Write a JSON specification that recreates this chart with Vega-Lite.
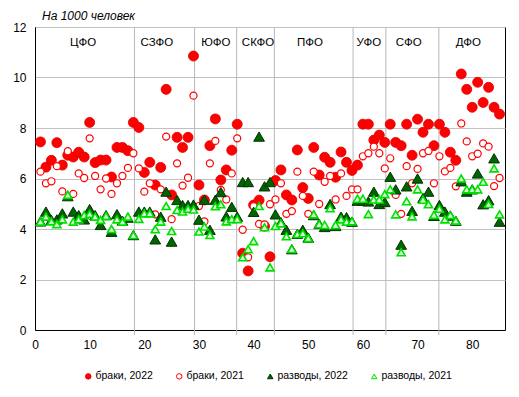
{
  "$schema": "https://vega.github.io/schema/vega-lite/v6.json",
  "width": 470,
  "height": 303,
  "autosize": {"type": "none"},
  "padding": {"left": 35, "top": 27, "right": 14, "bottom": 67},
  "background": "white",
  "title": {"text": "На 1000 человек", "anchor": "start", "frame": "group", "fontStyle": "italic", "fontWeight": "normal", "fontSize": 12, "font": "Liberation Sans", "color": "black", "offset": 7, "dx": 7, "dy": 18, "baseline": "alphabetic"},
  "config": {
    "font": "Liberation Sans",
    "view": {"stroke": "black", "strokeWidth": 1},
    "axis": {"labelFont": "Liberation Sans", "labelFontSize": 12, "labelColor": "black", "domainColor": "black", "ticks": false, "tickSize": 0, "title": null}
  },
  "datasets": {
    "pts": [
      {"s":"b22","i":1,"v":7.45},{"s":"b22","i":2,"v":6.45},{"s":"b22","i":3,"v":6.72},{"s":"b22","i":4,"v":7.42},{"s":"b22","i":5,"v":6.53},{"s":"b22","i":6,"v":6.92},{"s":"b22","i":7,"v":6.85},{"s":"b22","i":8,"v":7.04},{"s":"b22","i":9,"v":6.85},{"s":"b22","i":10,"v":8.22},
      {"s":"b22","i":11,"v":6.63},{"s":"b22","i":12,"v":6.73},{"s":"b22","i":13,"v":6.73},{"s":"b22","i":14,"v":6.06},{"s":"b22","i":15,"v":7.23},{"s":"b22","i":16,"v":7.23},{"s":"b22","i":17,"v":7.1},{"s":"b22","i":18,"v":8.22},{"s":"b22","i":19,"v":8.02},{"s":"b22","i":20,"v":6.24},
      {"s":"b22","i":21,"v":6.64},{"s":"b22","i":22,"v":5.74},{"s":"b22","i":23,"v":6.44},{"s":"b22","i":24,"v":9.53},{"s":"b22","i":25,"v":5.35},{"s":"b22","i":26,"v":7.63},{"s":"b22","i":27,"v":7.23},{"s":"b22","i":28,"v":7.63},{"s":"b22","i":29,"v":10.85},{"s":"b22","i":30,"v":5.74},
      {"s":"b22","i":31,"v":5.15},{"s":"b22","i":32,"v":7.3},{"s":"b22","i":33,"v":8.36},{"s":"b22","i":34,"v":5.94},{"s":"b22","i":35,"v":6.34},{"s":"b22","i":36,"v":7.12},{"s":"b22","i":37,"v":8.15},{"s":"b22","i":38,"v":3.04},{"s":"b22","i":39,"v":2.34},{"s":"b22","i":40,"v":4.95},
      {"s":"b22","i":41,"v":5.14},{"s":"b22","i":42,"v":4.11},{"s":"b22","i":43,"v":2.9},{"s":"b22","i":44,"v":5.92},{"s":"b22","i":45,"v":6.34},{"s":"b22","i":46,"v":5.35},{"s":"b22","i":47,"v":5.15},{"s":"b22","i":48,"v":7.13},{"s":"b22","i":49,"v":5.64},{"s":"b22","i":50,"v":5.21},
      {"s":"b22","i":51,"v":7.23},{"s":"b22","i":52,"v":6.14},{"s":"b22","i":53,"v":6.84},{"s":"b22","i":54,"v":6.64},{"s":"b22","i":55,"v":6.05},{"s":"b22","i":56,"v":7.05},{"s":"b22","i":57,"v":6.64},{"s":"b22","i":58,"v":6.32},{"s":"b22","i":59,"v":6.53},{"s":"b22","i":60,"v":8.15},
      {"s":"b22","i":61,"v":8.15},{"s":"b22","i":62,"v":7.52},{"s":"b22","i":63,"v":7.72},{"s":"b22","i":64,"v":7.43},{"s":"b22","i":65,"v":8.15},{"s":"b22","i":66,"v":7.43},{"s":"b22","i":67,"v":7.3},{"s":"b22","i":68,"v":8.15},{"s":"b22","i":69,"v":6.92},{"s":"b22","i":70,"v":8.35},
      {"s":"b22","i":71,"v":7.83},{"s":"b22","i":72,"v":8.15},{"s":"b22","i":73,"v":7.3},{"s":"b22","i":74,"v":8.15},{"s":"b22","i":75,"v":7.83},{"s":"b22","i":76,"v":7.04},{"s":"b22","i":77,"v":6.72},{"s":"b22","i":78,"v":10.14},{"s":"b22","i":79,"v":9.53},{"s":"b22","i":80,"v":8.82},
      {"s":"b22","i":81,"v":9.81},{"s":"b22","i":82,"v":9.01},{"s":"b22","i":83,"v":9.61},{"s":"b22","i":84,"v":8.82},{"s":"b22","i":85,"v":8.55},

      {"s":"b21","i":1,"v":6.27},{"s":"b21","i":2,"v":5.81},{"s":"b21","i":3,"v":5.89},{"s":"b21","i":4,"v":6.49},{"s":"b21","i":5,"v":5.49},{"s":"b21","i":6,"v":7.08},{"s":"b21","i":7,"v":5.39},{"s":"b21","i":8,"v":6.2},{"s":"b21","i":9,"v":6.02},{"s":"b21","i":10,"v":7.59},
      {"s":"b21","i":11,"v":6.1},{"s":"b21","i":12,"v":5.57},{"s":"b21","i":13,"v":6.0},{"s":"b21","i":14,"v":5.39},{"s":"b21","i":15,"v":5.81},{"s":"b21","i":16,"v":6.1},{"s":"b21","i":17,"v":6.42},{"s":"b21","i":18,"v":7.0},{"s":"b21","i":19,"v":6.4},{"s":"b21","i":20,"v":5.48},
      {"s":"b21","i":21,"v":5.81},{"s":"b21","i":22,"v":4.58},{"s":"b21","i":23,"v":5.57},{"s":"b21","i":24,"v":7.66},{"s":"b21","i":25,"v":4.39},{"s":"b21","i":26,"v":6.6},{"s":"b21","i":27,"v":5.72},{"s":"b21","i":28,"v":6.03},{"s":"b21","i":29,"v":9.28},{"s":"b21","i":30,"v":4.91},
      {"s":"b21","i":31,"v":4.3},{"s":"b21","i":32,"v":6.6},{"s":"b21","i":33,"v":7.49},{"s":"b21","i":34,"v":5.55},{"s":"b21","i":35,"v":5.17},{"s":"b21","i":36,"v":6.2},{"s":"b21","i":37,"v":7.59},{"s":"b21","i":38,"v":3.97},{"s":"b21","i":39,"v":2.88},{"s":"b21","i":40,"v":4.9},
      {"s":"b21","i":41,"v":4.2},{"s":"b21","i":42,"v":4.18},{"s":"b21","i":43,"v":4.98},{"s":"b21","i":44,"v":5.17},{"s":"b21","i":45,"v":5.81},{"s":"b21","i":46,"v":4.6},{"s":"b21","i":47,"v":4.71},{"s":"b21","i":48,"v":6.27},{"s":"b21","i":49,"v":5.31},{"s":"b21","i":50,"v":4.6},
      {"s":"b21","i":51,"v":6.27},{"s":"b21","i":52,"v":4.99},{"s":"b21","i":53,"v":5.87},{"s":"b21","i":54,"v":6.1},{"s":"b21","i":55,"v":5.17},{"s":"b21","i":56,"v":6.2},{"s":"b21","i":57,"v":5.31},{"s":"b21","i":58,"v":5.57},{"s":"b21","i":59,"v":5.57},{"s":"b21","i":60,"v":6.88},
      {"s":"b21","i":61,"v":7.0},{"s":"b21","i":62,"v":7.26},{"s":"b21","i":63,"v":7.0},{"s":"b21","i":64,"v":6.4},{"s":"b21","i":65,"v":6.8},{"s":"b21","i":66,"v":5.35},{"s":"b21","i":67,"v":4.6},{"s":"b21","i":68,"v":6.49},{"s":"b21","i":69,"v":5.81},{"s":"b21","i":70,"v":6.38},
      {"s":"b21","i":71,"v":7.0},{"s":"b21","i":72,"v":7.09},{"s":"b21","i":73,"v":5.81},{"s":"b21","i":74,"v":6.88},{"s":"b21","i":75,"v":6.28},{"s":"b21","i":76,"v":6.42},{"s":"b21","i":77,"v":5.69},{"s":"b21","i":78,"v":8.18},{"s":"b21","i":79,"v":7.47},{"s":"b21","i":80,"v":6.88},
      {"s":"b21","i":81,"v":6.98},{"s":"b21","i":82,"v":7.39},{"s":"b21","i":83,"v":7.26},{"s":"b21","i":84,"v":5.7},{"s":"b21","i":85,"v":6.02},

      {"s":"r22","i":1,"v":4.3},{"s":"r22","i":2,"v":4.69},{"s":"r22","i":3,"v":4.36},{"s":"r22","i":4,"v":4.38},{"s":"r22","i":5,"v":4.62},{"s":"r22","i":6,"v":5.3},{"s":"r22","i":7,"v":4.69},{"s":"r22","i":8,"v":4.55},{"s":"r22","i":9,"v":4.38},{"s":"r22","i":10,"v":4.79},
      {"s":"r22","i":11,"v":4.55},{"s":"r22","i":12,"v":4.16},{"s":"r22","i":13,"v":4.55},{"s":"r22","i":14,"v":3.89},{"s":"r22","i":15,"v":4.59},{"s":"r22","i":16,"v":4.33},{"s":"r22","i":17,"v":4.45},{"s":"r22","i":18,"v":3.76},{"s":"r22","i":19,"v":4.69},{"s":"r22","i":20,"v":4.69},
      {"s":"r22","i":21,"v":4.69},{"s":"r22","i":22,"v":3.59},{"s":"r22","i":23,"v":4.49},{"s":"r22","i":24,"v":5.48},{"s":"r22","i":25,"v":3.5},{"s":"r22","i":26,"v":5.15},{"s":"r22","i":27,"v":4.95},{"s":"r22","i":28,"v":4.95},{"s":"r22","i":29,"v":4.97},{"s":"r22","i":30,"v":4.37},
      {"s":"r22","i":31,"v":5.16},{"s":"r22","i":32,"v":3.97},{"s":"r22","i":33,"v":5.16},{"s":"r22","i":34,"v":5.46},{"s":"r22","i":35,"v":4.5},{"s":"r22","i":36,"v":4.88},{"s":"r22","i":37,"v":4.49},{"s":"r22","i":38,"v":5.86},{"s":"r22","i":39,"v":5.86},{"s":"r22","i":40,"v":4.68},
      {"s":"r22","i":41,"v":7.66},{"s":"r22","i":42,"v":5.69},{"s":"r22","i":43,"v":5.86},{"s":"r22","i":44,"v":4.58},{"s":"r22","i":45,"v":4.27},{"s":"r22","i":46,"v":3.97},{"s":"r22","i":47,"v":3.2},{"s":"r22","i":48,"v":3.81},{"s":"r22","i":49,"v":3.97},{"s":"r22","i":50,"v":3.66},
      {"s":"r22","i":51,"v":4.55},{"s":"r22","i":52,"v":4.2},{"s":"r22","i":53,"v":4.08},{"s":"r22","i":54,"v":4.99},{"s":"r22","i":55,"v":4.12},{"s":"r22","i":56,"v":4.49},{"s":"r22","i":57,"v":4.47},{"s":"r22","i":58,"v":4.29},{"s":"r22","i":59,"v":5.12},{"s":"r22","i":60,"v":5.12},
      {"s":"r22","i":61,"v":5.09},{"s":"r22","i":62,"v":5.48},{"s":"r22","i":63,"v":4.99},{"s":"r22","i":64,"v":5.07},{"s":"r22","i":65,"v":6.07},{"s":"r22","i":66,"v":5.57},{"s":"r22","i":67,"v":3.38},{"s":"r22","i":68,"v":5.69},{"s":"r22","i":69,"v":4.72},{"s":"r22","i":70,"v":6.0},
      {"s":"r22","i":71,"v":5.23},{"s":"r22","i":72,"v":5.48},{"s":"r22","i":73,"v":4.52},{"s":"r22","i":74,"v":4.95},{"s":"r22","i":75,"v":4.69},{"s":"r22","i":76,"v":4.53},{"s":"r22","i":77,"v":4.33},{"s":"r22","i":78,"v":5.89},{"s":"r22","i":79,"v":5.48},{"s":"r22","i":80,"v":5.57},
      {"s":"r22","i":81,"v":6.2},{"s":"r22","i":82,"v":4.98},{"s":"r22","i":83,"v":5.14},{"s":"r22","i":84,"v":6.8},{"s":"r22","i":85,"v":4.29},

      {"s":"r21","i":1,"v":4.29},{"s":"r21","i":2,"v":4.49},{"s":"r21","i":3,"v":4.3},{"s":"r21","i":4,"v":4.19},{"s":"r21","i":5,"v":4.38},{"s":"r21","i":6,"v":5.35},{"s":"r21","i":7,"v":4.29},{"s":"r21","i":8,"v":4.38},{"s":"r21","i":9,"v":4.55},{"s":"r21","i":10,"v":4.6},
      {"s":"r21","i":11,"v":4.49},{"s":"r21","i":12,"v":4.36},{"s":"r21","i":13,"v":4.52},{"s":"r21","i":14,"v":4.0},{"s":"r21","i":15,"v":4.38},{"s":"r21","i":16,"v":4.29},{"s":"r21","i":17,"v":4.49},{"s":"r21","i":18,"v":3.76},{"s":"r21","i":19,"v":4.4},{"s":"r21","i":20,"v":4.62},
      {"s":"r21","i":21,"v":4.62},{"s":"r21","i":22,"v":3.99},{"s":"r21","i":23,"v":4.29},{"s":"r21","i":24,"v":4.91},{"s":"r21","i":25,"v":3.92},{"s":"r21","i":26,"v":4.75},{"s":"r21","i":27,"v":4.69},{"s":"r21","i":28,"v":4.8},{"s":"r21","i":29,"v":4.77},{"s":"r21","i":30,"v":3.9},
      {"s":"r21","i":31,"v":4.1},{"s":"r21","i":32,"v":3.76},{"s":"r21","i":33,"v":4.9},{"s":"r21","i":34,"v":4.98},{"s":"r21","i":35,"v":4.3},{"s":"r21","i":36,"v":4.39},{"s":"r21","i":37,"v":4.39},{"s":"r21","i":38,"v":2.88},{"s":"r21","i":39,"v":3.2},{"s":"r21","i":40,"v":3.52},
      {"s":"r21","i":41,"v":4.91},{"s":"r21","i":42,"v":4.07},{"s":"r21","i":43,"v":2.48},{"s":"r21","i":44,"v":4.12},{"s":"r21","i":45,"v":4.23},{"s":"r21","i":46,"v":3.71},{"s":"r21","i":47,"v":3.21},{"s":"r21","i":48,"v":3.8},{"s":"r21","i":49,"v":3.83},{"s":"r21","i":50,"v":3.64},
      {"s":"r21","i":51,"v":4.58},{"s":"r21","i":52,"v":4.19},{"s":"r21","i":53,"v":4.16},{"s":"r21","i":54,"v":4.82},{"s":"r21","i":55,"v":4.16},{"s":"r21","i":56,"v":4.38},{"s":"r21","i":57,"v":4.29},{"s":"r21","i":58,"v":4.3},{"s":"r21","i":59,"v":5.2},{"s":"r21","i":60,"v":5.2},
      {"s":"r21","i":61,"v":4.59},{"s":"r21","i":62,"v":5.17},{"s":"r21","i":63,"v":5.17},{"s":"r21","i":64,"v":5.38},{"s":"r21","i":65,"v":5.57},{"s":"r21","i":66,"v":4.58},{"s":"r21","i":67,"v":3.08},{"s":"r21","i":68,"v":5.1},{"s":"r21","i":69,"v":4.5},{"s":"r21","i":70,"v":5.57},
      {"s":"r21","i":71,"v":5.16},{"s":"r21","i":72,"v":4.98},{"s":"r21","i":73,"v":4.56},{"s":"r21","i":74,"v":4.8},{"s":"r21","i":75,"v":4.38},{"s":"r21","i":76,"v":4.55},{"s":"r21","i":77,"v":4.33},{"s":"r21","i":78,"v":6.0},{"s":"r21","i":79,"v":5.57},{"s":"r21","i":80,"v":5.57},
      {"s":"r21","i":81,"v":5.57},{"s":"r21","i":82,"v":5.87},{"s":"r21","i":83,"v":4.99},{"s":"r21","i":84,"v":6.4},{"s":"r21","i":85,"v":4.58}
    ],
    "bounds": [{"b": 18.2}, {"b": 29.2}, {"b": 36.9}, {"b": 43.8}, {"b": 58.2}, {"b": 64.2}, {"b": 73.9}],
    "districts": [
      {"d": "ЦФО", "x": 8.8}, {"d": "СЗФО", "x": 22.3}, {"d": "ЮФО", "x": 33.1}, {"d": "СКФО", "x": 40.8},
      {"d": "ПФО", "x": 50.3}, {"d": "УФО", "x": 61.1}, {"d": "СФО", "x": 68.4}, {"d": "ДФО", "x": 79.3}
    ]
  },
  "layer": [
    {
      "data": {"name": "bounds"},
      "mark": {"type": "rule", "color": "#b8b8b8", "strokeWidth": 1},
      "encoding": {
        "x": {"field": "b", "type": "quantitative", "scale": {"domain": [0, 86], "nice": false, "zero": false},
              "axis": {"values": [0,5,10,15,20,25,30,35,40,45,50,55,60,65,70,75,80,85], "grid": false, "labelPadding": 9, "labelFlush": false}},
        "y": {"datum": 12, "type": "quantitative", "scale": {"domain": [0, 12], "nice": false},
              "axis": {"values": [0,1,2,3,4,5,6,7,8,9,10,11,12], "grid": true, "gridColor": "#c0c0c0", "gridWidth": 1, "labelPadding": 9}},
        "y2": {"datum": -0.2}
      }
    },
    {
      "data": {"name": "pts"},
      "transform": [{"filter": "datum.s === 'b22'"}],
      "mark": {"type": "point", "opacity": 1, "size": 100, "strokeWidth": 0.8},
      "encoding": {
        "x": {"field": "i", "type": "quantitative"},
        "y": {"field": "v", "type": "quantitative"},
        "shape": {"field": "s", "type": "nominal", "scale": {"domain": ["b22","b21","r22","r21"], "range": ["circle","circle","triangle-up","triangle-up"]},
                  "legend": {"orient": "none", "legendX": 48, "legendY": 344, "direction": "horizontal", "columns": 4, "columnPadding": 21, "title": null, "labelFontSize": 10.5, "labelFont": "Liberation Sans", "labelColor": "black", "symbolSize": 30, "symbolStrokeWidth": 1, "labelOffset": 2, "padding": 0,
                             "labelExpr": "datum.label === 'b22' ? 'браки, 2022' : datum.label === 'b21' ? 'браки, 2021' : datum.label === 'r22' ? 'разводы, 2022' : 'разводы, 2021'"}},
        "fill": {"field": "s", "type": "nominal", "scale": {"domain": ["b22","b21","r22","r21"], "range": ["#ff0000","#ffffff","#006400","#d8ffd8"]}},
        "stroke": {"field": "s", "type": "nominal", "scale": {"domain": ["b22","b21","r22","r21"], "range": ["#e00000","#ff0000","#003300","#00e000"]}}
      }
    },
    {
      "data": {"name": "pts"},
      "transform": [{"filter": "datum.s === 'b21'"}],
      "mark": {"type": "point", "opacity": 1, "size": 50, "strokeWidth": 1.2},
      "encoding": {
        "x": {"field": "i", "type": "quantitative"},
        "y": {"field": "v", "type": "quantitative"},
        "shape": {"field": "s", "type": "nominal"},
        "fill": {"field": "s", "type": "nominal"},
        "stroke": {"field": "s", "type": "nominal"}
      }
    },
    {
      "data": {"name": "pts"},
      "transform": [{"filter": "datum.s === 'r22'"}],
      "mark": {"type": "point", "opacity": 1, "size": 115, "strokeWidth": 1},
      "encoding": {
        "x": {"field": "i", "type": "quantitative"},
        "y": {"field": "v", "type": "quantitative"},
        "shape": {"field": "s", "type": "nominal"},
        "fill": {"field": "s", "type": "nominal"},
        "stroke": {"field": "s", "type": "nominal"}
      }
    },
    {
      "data": {"name": "pts"},
      "transform": [{"filter": "datum.s === 'r21'"}],
      "mark": {"type": "point", "opacity": 1, "size": 65, "strokeWidth": 1.6},
      "encoding": {
        "x": {"field": "i", "type": "quantitative"},
        "y": {"field": "v", "type": "quantitative"},
        "shape": {"field": "s", "type": "nominal"},
        "fill": {"field": "s", "type": "nominal"},
        "stroke": {"field": "s", "type": "nominal"}
      }
    },
    {
      "data": {"name": "districts"},
      "mark": {"type": "text", "fontSize": 11.5, "font": "Liberation Sans", "color": "black", "baseline": "middle", "align": "center"},
      "encoding": {
        "x": {"field": "x", "type": "quantitative"},
        "y": {"datum": 11.37, "type": "quantitative"},
        "text": {"field": "d"}
      }
    }
  ]
}
